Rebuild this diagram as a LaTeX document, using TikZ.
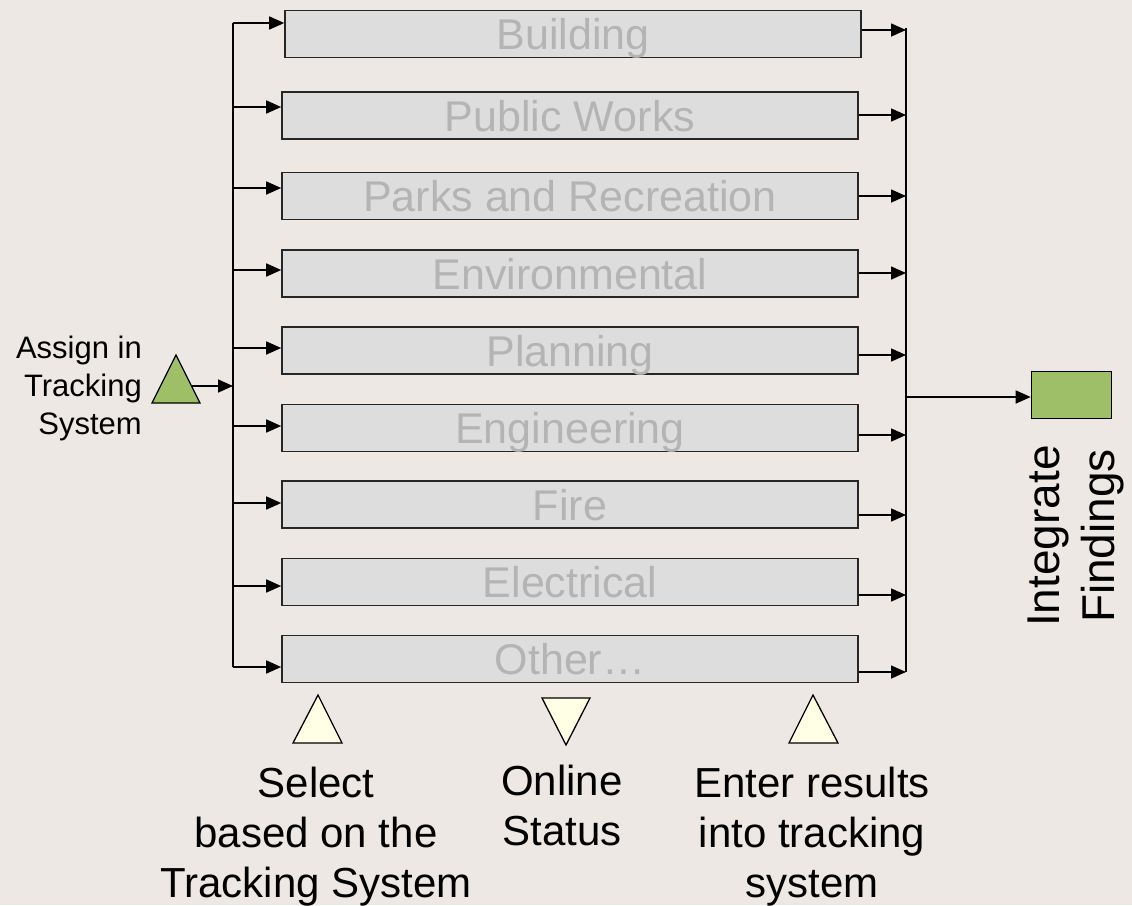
\documentclass[tikz,border=0pt]{standalone}
\usepackage{fontspec}
\setmainfont{Liberation Sans}
\usetikzlibrary{arrows.meta,shapes.geometric}
\definecolor{bg}{HTML}{EDE8E4}
\definecolor{boxfill}{HTML}{DDDDDD}
\definecolor{boxtext}{HTML}{B4B4B4}
\definecolor{grn}{HTML}{9FBE68}
\definecolor{ylw}{HTML}{FFFFE6}
\tikzset{
  dept/.style={draw=black!85, line width=1.6pt, fill=boxfill, minimum width=576pt, minimum height=47pt, inner sep=0pt, text height=31pt, text depth=0pt, text=boxtext, font=\fontsize{43}{47}\selectfont},
  bus/.style={line width=2pt},
  feed/.style={line width=1.6pt, -{Triangle[length=15pt,width=13pt]}},
  lbl/.style={align=center, anchor=north, inner sep=0pt, font=\fontsize{42}{50}\selectfont, text=black},
  tri/.style={draw=black, line width=1.3pt}
}
\begin{document}
\begin{tikzpicture}[x=1pt,y=-1pt]
\fill[bg] (0,0) rectangle (1132,905);
\useasboundingbox (0,0) rectangle (1132,905);
% boxes
\node[dept] (b1) at (573,34) {Building};
\node[dept] (b2) at (570,115.5) {Public Works};
\node[dept] (b3) at (570,196) {Parks and Recreation};
\node[dept] (b4) at (570,273.5) {Environmental};
\node[dept] (b5) at (570,350.5) {Planning};
\node[dept] (b6) at (570,428) {Engineering};
\node[dept] (b7) at (570,504.5) {Fire};
\node[dept] (b8) at (570,582) {Electrical};
\node[dept] (b9) at (570,659) {Other\ldots};
% left bus
\coordinate (L1) at (233,23);
\coordinate (L2) at (233,107);
\coordinate (L3) at (233,188);
\coordinate (L4) at (233,270);
\coordinate (L5) at (233,348);
\coordinate (L6) at (233,426);
\coordinate (L7) at (233,503);
\coordinate (L8) at (233,586);
\coordinate (L9) at (233,667);
\coordinate (Lin) at (233,386);
\draw[bus] (L1) -- (L9);
\foreach \i in {1,...,9} \draw[feed] (L\i) -- (L\i -| b\i.west);
% right bus
\coordinate (R1) at (906,30);
\coordinate (R2) at (906,115);
\coordinate (R3) at (906,196);
\coordinate (R4) at (906,273);
\coordinate (R5) at (906,355);
\coordinate (R6) at (906,435);
\coordinate (R7) at (906,515);
\coordinate (R8) at (906,595);
\coordinate (R9) at (906,672);
\coordinate (Rout) at (906,397);
\draw[bus] (906,28) -- (R9);
\foreach \i in {1,...,9} \draw[feed] (R\i -| b\i.east) -- (R\i);
% assign triangle
\draw[tri, fill=grn] (176,355) -- (200,403) -- (152,403) -- cycle;
\coordinate (A) at (192,386);
\draw[feed] (A) -- (Lin);
\node[align=right, inner sep=0pt, font=\fontsize{31}{38}\selectfont, anchor=north east] (assign) at (142,336) {Assign in\\Tracking\\System};
% integrate
\node[draw=black, line width=1.6pt, fill=grn, minimum width=80pt, minimum height=47pt, inner sep=0pt] (integ) at (1071.5,395) {};
\draw[feed] (Rout) -- (Rout -| integ.west);
\node[rotate=90, align=center, font=\fontsize{46}{55}\selectfont] (intext) at (1076,536) {Integrate\\Findings};
% bottom triangles
\draw[tri, fill=ylw] (318,695) -- (342,743) -- (293,743) -- cycle;
\draw[tri, fill=ylw] (542,698) -- (590,698) -- (566,745) -- cycle;
\draw[tri, fill=ylw] (813,695) -- (838,743) -- (789,743) -- cycle;
\node[lbl] (sel) at (316,767) {Select\\based on the\\Tracking System};
\node[lbl] (onl) at (562,765) {Online\\Status};
\node[lbl] (ent) at (812,767) {Enter results\\into tracking\\system};
\end{tikzpicture}
\end{document}
